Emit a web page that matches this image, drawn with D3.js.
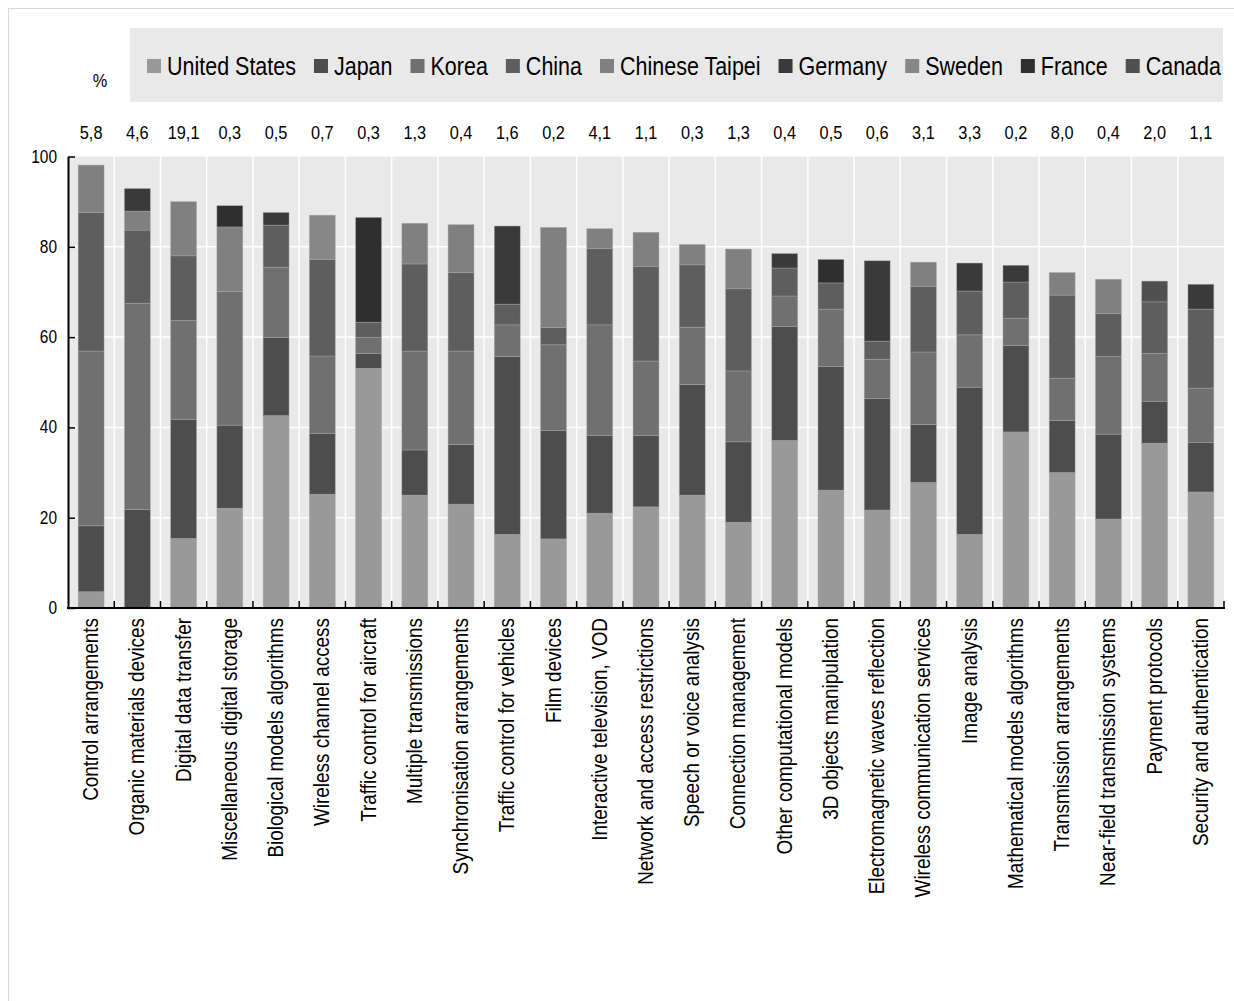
<!DOCTYPE html>
<html>
<head>
<meta charset="utf-8">
<script src="https://cdn.jsdelivr.net/npm/d3@7"></script>
<style>
  html, body { margin: 0; padding: 0; background: #fff; }
  svg { display: block; }
  text { font-family: "Liberation Sans", Arial, sans-serif; fill: #000; }
</style>
</head>
<body>
<svg id="chart" width="1234" height="1001"></svg>
<script>
// Technology fields, ordered by combined share of the top economies
const categories = [
  "Control arrangements", "Organic materials devices", "Digital data transfer",
  "Miscellaneous digital storage", "Biological models algorithms", "Wireless channel access",
  "Traffic control for aircraft", "Multiple transmissions", "Synchronisation arrangements",
  "Traffic control for vehicles", "Film devices", "Interactive television, VOD",
  "Network and access restrictions", "Speech or voice analysis", "Connection management",
  "Other computational models", "3D objects manipulation", "Electromagnetic waves reflection",
  "Wireless communication services", "Image analysis", "Mathematical models algorithms",
  "Transmission arrangements", "Near-field transmission systems", "Payment protocols",
  "Security and authentication"
];

// Share of each field's patents held by the economy, %
const unitedStates = [3.6, 0, 15.4, 22.1, 42.6, 25.2, 53.1, 25.0, 23.0, 16.3, 15.3, 21.0, 22.4, 25.0, 19.0, 37.1, 26.1, 21.7, 27.8, 16.3, 39.0, 30.0, 19.7, 36.5, 25.7];
const japan        = [14.6, 21.8, 26.4, 18.4, 17.3, 13.4, 3.3, 10.0, 13.2, 39.4, 24.0, 17.2, 15.8, 24.5, 17.8, 25.2, 27.4, 24.7, 12.8, 32.6, 19.1, 11.5, 18.8, 9.3, 11.0];
const korea        = [38.7, 45.7, 21.9, 29.6, 15.6, 17.2, 3.5, 21.9, 20.7, 7.0, 19.0, 24.5, 16.5, 12.7, 15.7, 6.8, 12.7, 8.7, 16.1, 11.6, 6.1, 9.4, 17.2, 10.6, 12.0];
const china        = [30.7, 16.2, 14.3, 0, 9.3, 21.4, 3.4, 19.3, 17.4, 4.6, 3.8, 16.9, 21.0, 13.8, 18.2, 6.2, 5.8, 4.0, 14.5, 9.7, 8.0, 18.4, 9.5, 11.4, 17.5];
const chineseTaipei= [10.5, 4.2, 12.0, 14.3, 0, 0, 0, 9.0, 10.6, 0, 22.2, 4.4, 7.5, 4.5, 8.8, 0, 0, 0, 5.4, 0, 0, 5.0, 7.6, 0, 0];
const germany      = [0, 5.0, 0, 0, 2.8, 0, 0, 0, 0, 17.3, 0, 0, 0, 0, 0, 3.2, 0, 17.8, 0, 6.2, 3.7, 0, 0, 0, 5.5];
const sweden       = [0, 0, 0, 0, 0, 9.8, 0, 0, 0, 0, 0, 0, 0, 0, 0, 0, 0, 0, 0, 0, 0, 0, 0, 0, 0];
const france       = [0, 0, 0, 4.7, 0, 0, 23.2, 0, 0, 0, 0, 0, 0, 0, 0, 0, 5.2, 0, 0, 0, 0, 0, 0, 0, 0];
const canada       = [0, 0, 0, 0, 0, 0, 0, 0, 0, 0, 0, 0, 0, 0, 0, 0, 0, 0, 0, 0, 0, 0, 0, 4.6, 0];

// Field's share in total patents, shown above each bar
const fieldShare = ["5,8", "4,6", "19,1", "0,3", "0,5", "0,7", "0,3", "1,3", "0,4", "1,6", "0,2", "4,1", "1,1", "0,3", "1,3", "0,4", "0,5", "0,6", "3,1", "3,3", "0,2", "8,0", "0,4", "2,0", "1,1"];

const seriesNames = ["United States", "Japan", "Korea", "China", "Chinese Taipei", "Germany", "Sweden", "France", "Canada"];
const seriesValues = [unitedStates, japan, korea, china, chineseTaipei, germany, sweden, france, canada];
const seriesColors = ["#999999", "#4d4d4d", "#707070", "#5e5e5e", "#808080", "#3a3a3a", "#878787", "#2f2f2f", "#505050"];
const yTicks = [0, 20, 40, 60, 80, 100];

// horizontal squeeze that gives the text a condensed look
const SQ = 0.86;

const svg = d3.select("#chart");

// thin outer frame
svg.append("rect").attr("x", 8.5).attr("y", 8.5).attr("width", 1230).attr("height", 1000)
  .attr("fill", "none").attr("stroke", "#d9d9d9");

const plot = { left: 68, right: 1224, top: 156.5, bottom: 608 };

const x = d3.scaleBand().domain(categories).range([plot.left, plot.right]).paddingInner(0.44).paddingOuter(0.22);
const y = d3.scaleLinear().domain([0, 100]).range([plot.bottom, plot.top]);

// background
svg.append("rect").attr("x", plot.left).attr("y", plot.top)
  .attr("width", plot.right - plot.left).attr("height", plot.bottom - plot.top)
  .attr("fill", "#e9e9e9");

// gridlines
const step = (plot.right - plot.left) / categories.length;
const bounds = d3.range(1, categories.length).map(i => plot.left + i * step);
svg.append("g").selectAll("line").data(bounds).join("line")
  .attr("x1", d => d).attr("x2", d => d).attr("y1", plot.top).attr("y2", plot.bottom)
  .attr("stroke", "#fff").attr("stroke-width", 1.5);
svg.append("g").selectAll("line").data(yTicks.filter(t => t > 0 && t < 100)).join("line")
  .attr("x1", plot.left).attr("x2", plot.right).attr("y1", d => y(d)).attr("y2", d => y(d))
  .attr("stroke", "#fff").attr("stroke-width", 1.5);

// stacked bars
const rows = categories.map((c, i) => {
  const r = { category: c };
  seriesNames.forEach((s, k) => r[s] = seriesValues[k][i]);
  return r;
});
const stacked = d3.stack().keys(seriesNames)(rows);
svg.append("g").selectAll("g").data(stacked).join("g")
  .attr("fill", (d, i) => seriesColors[i])
  .selectAll("rect").data(d => d.filter(p => p[1] - p[0] > 0)).join("rect")
  .attr("x", d => x(d.data.category))
  .attr("width", x.bandwidth())
  .attr("y", d => y(d[1]))
  .attr("height", d => y(d[0]) - y(d[1]))
  .attr("stroke", "#a8a8a8").attr("stroke-width", 0.6).attr("stroke-opacity", 0.7);

// y axis (line and inward ticks from the axis generator, labels drawn condensed)
const yAxis = d3.axisLeft(y).tickValues(yTicks).tickSize(-7).tickSizeOuter(0).tickFormat("");
const gy = svg.append("g").attr("transform", `translate(${plot.left},0)`).call(yAxis);
gy.select(".domain").attr("stroke", "#000").attr("stroke-width", 2);
gy.selectAll(".tick line").attr("stroke", "#000").attr("stroke-width", 1.5);
svg.append("g").selectAll("text").data(yTicks).join("text")
  .attr("transform", d => `translate(${plot.left - 11},${y(d) + 6}) scale(${SQ},1)`)
  .attr("text-anchor", "end")
  .style("font-size", "18px")
  .text(d => d);

// x axis: ticks at band boundaries
svg.append("line").attr("x1", plot.left - 1).attr("x2", plot.right + 1)
  .attr("y1", plot.bottom).attr("y2", plot.bottom).attr("stroke", "#000").attr("stroke-width", 2);
svg.append("g").selectAll("line").data(bounds.concat([plot.right])).join("line")
  .attr("x1", d => d).attr("x2", d => d).attr("y1", plot.bottom).attr("y2", plot.bottom - 7)
  .attr("stroke", "#000").attr("stroke-width", 1.5);

svg.append("g").selectAll("text").data(categories).join("text")
  .attr("transform", d => `translate(${x(d) + x.bandwidth() / 2 + 7},${plot.bottom + 10}) rotate(-90) scale(${SQ},1)`)
  .attr("text-anchor", "end")
  .style("font-size", "22px")
  .text(d => d);

// field shares above bars
svg.append("g").selectAll("text").data(categories).join("text")
  .attr("transform", d => `translate(${x(d) + x.bandwidth() / 2},139) scale(${SQ},1)`)
  .attr("text-anchor", "middle")
  .style("font-size", "19px")
  .text((d, i) => fieldShare[i]);

// unit label
svg.append("text").attr("transform", `translate(100,87) scale(${SQ},1)`).attr("text-anchor", "middle")
  .style("font-size", "19px").text("%");

// legend
const legend = { x: 130, y: 28, w: 1093, h: 74 };
svg.append("rect").attr("x", legend.x).attr("y", legend.y).attr("width", legend.w).attr("height", legend.h)
  .attr("fill", "#e9e9e9");
const items = svg.append("g").selectAll("g").data(seriesNames).join("g");
items.append("rect").attr("width", 14).attr("height", 14).attr("y", -16)
  .attr("fill", (d, i) => seriesColors[i]);
items.append("text").attr("transform", `translate(20,0) scale(${SQ},1)`)
  .style("font-size", "25px").text(d => d);
const widths = [];
items.each(function () { widths.push(this.getBoundingClientRect().width); });
const startX = 147, endX = 1221;
const gap = (endX - startX - d3.sum(widths)) / (seriesNames.length - 1);
let cx = startX;
items.attr("transform", (d, i) => { const t = `translate(${cx},${legend.y + 47})`; cx += widths[i] + gap; return t; });
</script>
</body>
</html>
